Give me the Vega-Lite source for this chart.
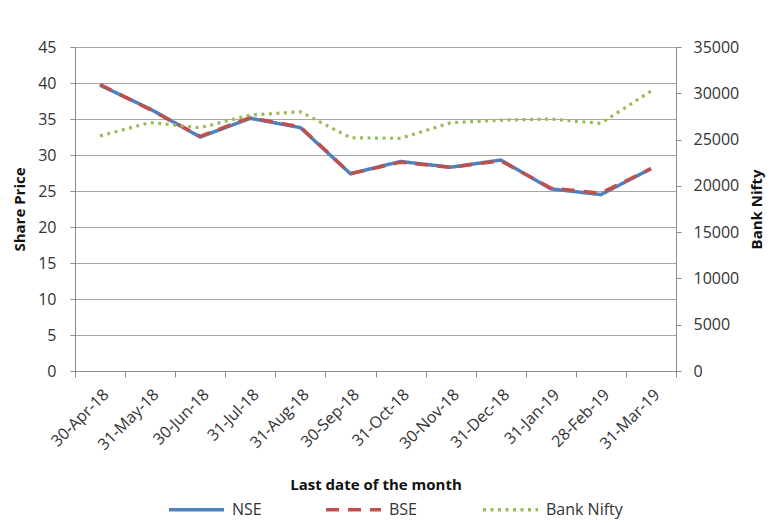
{
  "$schema": "https://vega.github.io/schema/vega-lite/v6.json",
  "width": 601,
  "height": 324,
  "autosize": "none",
  "padding": {"left": 75, "top": 47, "right": 95, "bottom": 152},
  "background": "white",
  "config": {
    "font": "Open Sans",
    "view": {"stroke": null},
    "axis": {
      "labelFont": "Open Sans",
      "labelFontSize": 16,
      "labelColor": "#333333",
      "titleFont": "Open Sans",
      "titleFontSize": 15,
      "titleFontWeight": "bold",
      "titleColor": "#111111",
      "domainColor": "#8c8c8c",
      "tickColor": "#8c8c8c",
      "gridColor": "#a6a6a6",
      "gridWidth": 1.2
    },
    "legend": {
      "labelFont": "Open Sans",
      "labelFontSize": 16,
      "labelColor": "#333333"
    }
  },
  "data": {
    "values": [
      {"date": "30-Apr-18", "series": "NSE", "value": 39.7},
      {"date": "31-May-18", "series": "NSE", "value": 36.4},
      {"date": "30-Jun-18", "series": "NSE", "value": 32.5},
      {"date": "31-Jul-18", "series": "NSE", "value": 35.1},
      {"date": "31-Aug-18", "series": "NSE", "value": 33.8},
      {"date": "30-Sep-18", "series": "NSE", "value": 27.4},
      {"date": "31-Oct-18", "series": "NSE", "value": 29.1},
      {"date": "30-Nov-18", "series": "NSE", "value": 28.3},
      {"date": "31-Dec-18", "series": "NSE", "value": 29.3},
      {"date": "31-Jan-19", "series": "NSE", "value": 25.3},
      {"date": "28-Feb-19", "series": "NSE", "value": 24.5},
      {"date": "31-Mar-19", "series": "NSE", "value": 28.1},
      {"date": "30-Apr-18", "series": "BSE", "value": 39.8},
      {"date": "31-May-18", "series": "BSE", "value": 36.3},
      {"date": "30-Jun-18", "series": "BSE", "value": 32.6},
      {"date": "31-Jul-18", "series": "BSE", "value": 35.2},
      {"date": "31-Aug-18", "series": "BSE", "value": 33.9},
      {"date": "30-Sep-18", "series": "BSE", "value": 27.4},
      {"date": "31-Oct-18", "series": "BSE", "value": 29.0},
      {"date": "30-Nov-18", "series": "BSE", "value": 28.3},
      {"date": "31-Dec-18", "series": "BSE", "value": 29.2},
      {"date": "31-Jan-19", "series": "BSE", "value": 25.4},
      {"date": "28-Feb-19", "series": "BSE", "value": 24.7},
      {"date": "31-Mar-19", "series": "BSE", "value": 28.1},
      {"date": "30-Apr-18", "series": "Bank Nifty", "value": 25400},
      {"date": "31-May-18", "series": "Bank Nifty", "value": 26840},
      {"date": "30-Jun-18", "series": "Bank Nifty", "value": 26280},
      {"date": "31-Jul-18", "series": "Bank Nifty", "value": 27650},
      {"date": "31-Aug-18", "series": "Bank Nifty", "value": 28000},
      {"date": "30-Sep-18", "series": "Bank Nifty", "value": 25200},
      {"date": "31-Oct-18", "series": "Bank Nifty", "value": 25130},
      {"date": "30-Nov-18", "series": "Bank Nifty", "value": 26820},
      {"date": "31-Dec-18", "series": "Bank Nifty", "value": 27100},
      {"date": "31-Jan-19", "series": "Bank Nifty", "value": 27220},
      {"date": "28-Feb-19", "series": "Bank Nifty", "value": 26750},
      {"date": "31-Mar-19", "series": "Bank Nifty", "value": 30240}
    ]
  },
  "encoding": {
    "x": {
      "field": "date",
      "type": "nominal",
      "sort": null,
      "scale": {"paddingInner": 0, "paddingOuter": 0},
      "axis": {
        "title": "Last date of the month",
        "labelAngle": -45,
        "labelPadding": 9,
        "tickBand": "extent",
        "tickSize": 6,
        "titlePadding": 25,
        "grid": false
      }
    },
    "color": {
      "field": "series",
      "type": "nominal",
      "title": null,
      "scale": {"domain": ["NSE", "BSE", "Bank Nifty"], "range": ["#4f81bd", "#c0504d", "#9bbb59"]},
      "legend": {
        "orient": "none",
        "legendX": 92,
        "legendY": 433,
        "direction": "horizontal",
        "symbolType": "stroke",
        "symbolSize": 3025,
        "symbolStrokeWidth": 3.5,
        "gridAlign": "all",
        "columnPadding": 10,
        "labelOffset": 6
      }
    },
    "strokeDash": {
      "field": "series",
      "type": "nominal",
      "title": null,
      "scale": {"domain": ["NSE", "BSE", "Bank Nifty"], "range": [[1, 0], [13, 9], [3, 4.5]]}
    }
  },
  "layer": [
    {
      "encoding": {
        "y": {
          "field": "value",
          "type": "quantitative",
          "scale": {"domain": [0, 45]},
          "axis": {
            "title": "Share Price",
            "values": [0, 5, 10, 15, 20, 25, 30, 35, 40, 45],
            "tickSize": 5,
            "labelPadding": 14,
            "titlePadding": 10
          }
        }
      },
      "layer": [
        {
          "transform": [{"filter": "datum.series === 'NSE'"}],
          "mark": {"type": "line", "strokeWidth": 3.5}
        },
        {
          "transform": [{"filter": "datum.series === 'BSE'"}],
          "mark": {"type": "line", "strokeWidth": 3.5}
        }
      ]
    },
    {
      "transform": [{"filter": "datum.series === 'Bank Nifty'"}],
      "mark": {"type": "line", "strokeWidth": 3.2},
      "encoding": {
        "y": {
          "field": "value",
          "type": "quantitative",
          "scale": {"domain": [0, 35000]},
          "axis": {
            "orient": "right",
            "title": "Bank Nifty",
            "titleAngle": 270,
            "format": "d",
            "values": [0, 5000, 10000, 15000, 20000, 25000, 30000, 35000],
            "tickSize": 5,
            "labelPadding": 12,
            "titlePadding": 26,
            "grid": false
          }
        }
      }
    }
  ],
  "resolve": {"scale": {"y": "independent"}}
}
